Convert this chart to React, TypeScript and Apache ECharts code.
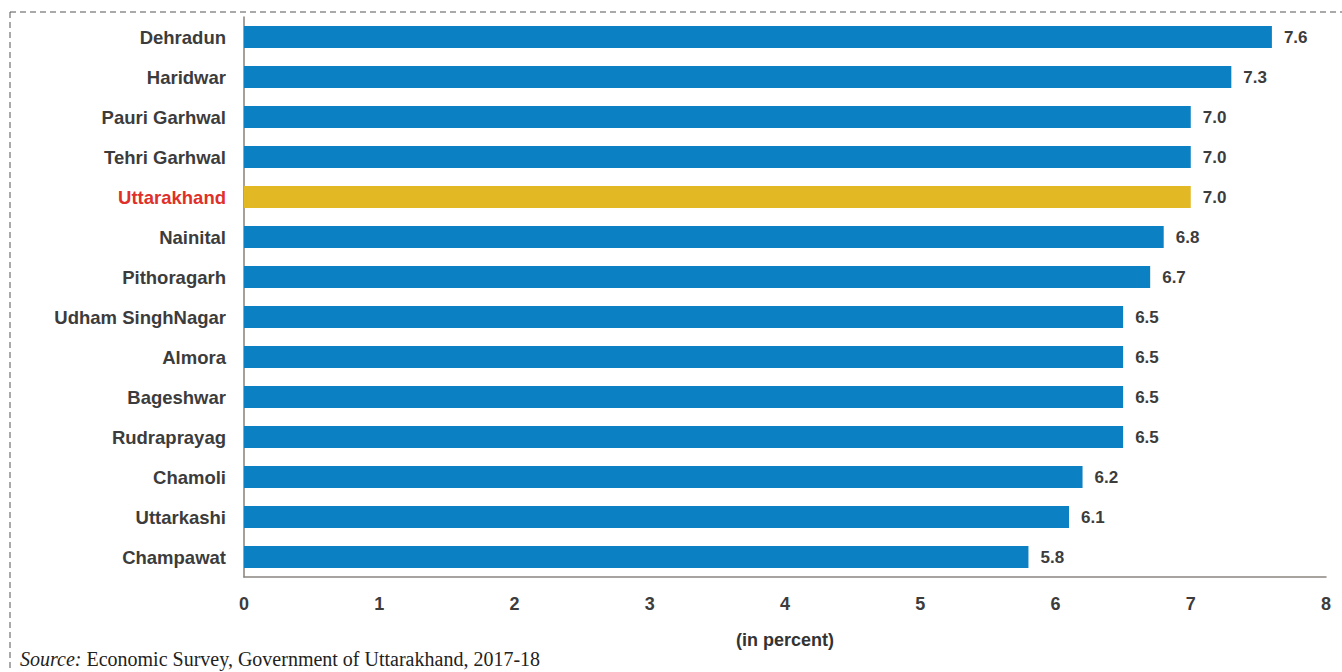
import React, { useEffect, useRef } from "react";
import * as echarts from "echarts";

const districts = [
  "Dehradun", "Haridwar", "Pauri Garhwal", "Tehri Garhwal", "Uttarakhand", "Nainital",
  "Pithoragarh", "Udham SinghNagar", "Almora", "Bageshwar", "Rudraprayag", "Chamoli",
  "Uttarkashi", "Champawat",
];
const values = [7.6, 7.3, 7.0, 7.0, 7.0, 6.8, 6.7, 6.5, 6.5, 6.5, 6.5, 6.2, 6.1, 5.8];
const highlight = "Uttarakhand";
const xTicks = [0, 1, 2, 3, 4, 5, 6, 7, 8];

export default function App() {
  const ref = useRef<HTMLDivElement>(null);
  useEffect(() => {
    if (!ref.current) return;
    const chart = echarts.init(ref.current, undefined, { renderer: "svg" });
    const font = "'Liberation Sans', Arial, sans-serif";
    chart.setOption({
      animation: false,
      backgroundColor: "#ffffff",
      grid: { left: 244, right: 16, top: 17, bottom: 95, containLabel: false },
      xAxis: {
        type: "value",
        min: xTicks[0],
        max: xTicks[xTicks.length - 1],
        interval: 1,
        splitLine: { show: false },
        axisLine: { show: true, lineStyle: { color: "#8a8580", width: 1.5 } },
        axisTick: { show: false },
        axisLabel: { color: "#3c3c3c", fontSize: 18, fontWeight: "bold", fontFamily: font, margin: 18 },
        name: "(in percent)",
        nameLocation: "middle",
        nameGap: 54,
        nameTextStyle: { color: "#333", fontSize: 18, fontWeight: "bold", fontFamily: font },
      },
      yAxis: {
        type: "category",
        data: districts,
        inverse: true,
        axisLine: { show: true, lineStyle: { color: "#8a7f78", width: 1.5 } },
        axisTick: { show: false },
        axisLabel: {
          margin: 18,
          fontSize: 18.5,
          fontWeight: "bold",
          fontFamily: font,
          color: (v: string) => (v === highlight ? "#e0302a" : "#3c3c3c"),
        },
      },
      series: [
        {
          type: "bar",
          barCategoryGap: "45%",
          data: values.map((v, i) => ({
            value: v,
            itemStyle: { color: districts[i] === highlight ? "#e2b824" : "#0b80c2" },
          })),
          label: {
            show: true,
            position: "right",
            distance: 12,
            formatter: (p: any) => Number(p.value).toFixed(1),
            color: "#3c3c3c",
            fontSize: 17,
            fontWeight: "bold",
            fontFamily: font,
          },
        },
      ],
      graphic: [
        {
          type: "line",
          shape: { x1: 10, y1: 12, x2: 1342, y2: 12 },
          style: { stroke: "#555", lineWidth: 1, lineDash: [6, 4] },
        },
        {
          type: "line",
          shape: { x1: 10, y1: 12, x2: 10, y2: 672 },
          style: { stroke: "#555", lineWidth: 1, lineDash: [6, 4] },
        },
        {
          type: "text",
          left: 20,
          top: 649,
          style: {
            text: "{i|Source:} Economic Survey, Government of Uttarakhand, 2017-18",
            fontFamily: "'Liberation Serif', 'Times New Roman', serif",
            fontSize: 20,
            fill: "#222",
            rich: {
              i: {
                fontStyle: "italic",
                fontFamily: "'Liberation Serif', 'Times New Roman', serif",
                fontSize: 20,
                fill: "#222",
              },
            },
          },
        },
      ],
    });
    return () => chart.dispose();
  }, []);
  return (
    <div
      ref={ref}
      style={{ position: "fixed", left: 0, top: 0, width: 1342, height: 672 }}
    />
  );
}
